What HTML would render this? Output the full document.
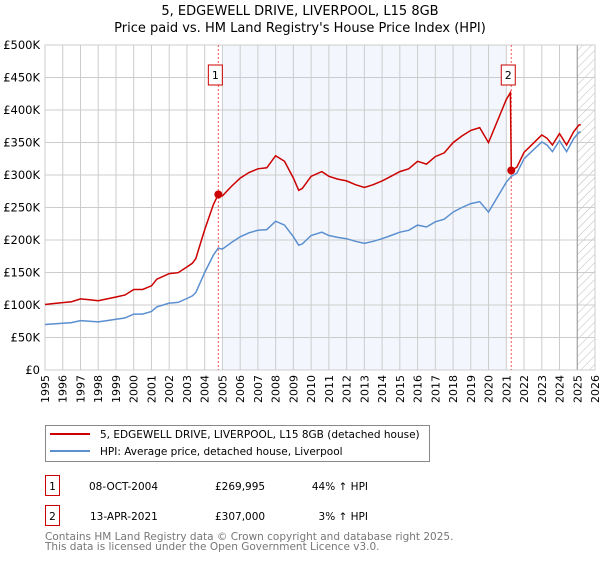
<!DOCTYPE html>
<html><head><meta charset="utf-8"><style>
body{margin:0;background:#fff;font-family:"DejaVu Sans","Liberation Sans",sans-serif;}
svg text{font-family:"DejaVu Sans","Liberation Sans",sans-serif;}
</style></head><body>
<svg id="c" width="600" height="560" xmlns="http://www.w3.org/2000/svg">
<defs><pattern id="hatch" width="6" height="6" patternUnits="userSpaceOnUse" patternTransform="rotate(45)"><line x1="0" y1="0" x2="0" y2="6" stroke="#bbb" stroke-width="1"/></pattern></defs>
<text x="300" y="15" text-anchor="middle" font-size="13">5, EDGEWELL DRIVE, LIVERPOOL, L15 8GB</text>
<text x="300" y="32" text-anchor="middle" font-size="13">Price paid vs. HM Land Registry's House Price Index (HPI)</text>
<g id="plot"></g>
<g>
<rect x="45.5" y="425.5" width="384" height="36" fill="#fff" stroke="#888"/>
<line x1="50" y1="434" x2="90" y2="434" stroke="#cc0000" stroke-width="2"/>
<text x="100" y="438" font-size="10.5">5, EDGEWELL DRIVE, LIVERPOOL, L15 8GB (detached house)</text>
<line x1="50" y1="451" x2="90" y2="451" stroke="#5b8fd0" stroke-width="2"/>
<text x="100" y="455" font-size="10.5">HPI: Average price, detached house, Liverpool</text>
</g>
<g font-size="10.5">
<rect x="45.5" y="475.5" width="14" height="20" fill="#fff" stroke="#cc0000"/>
<text x="52.5" y="490" text-anchor="middle">1</text>
<text x="89" y="490">08-OCT-2004</text>
<text x="215" y="490">£269,995</text>
<text x="368" y="490" text-anchor="end">44% ↑ HPI</text>
<rect x="45.5" y="505.5" width="14" height="20" fill="#fff" stroke="#cc0000"/>
<text x="52.5" y="520" text-anchor="middle">2</text>
<text x="90" y="520">13-APR-2021</text>
<text x="215" y="520">£307,000</text>
<text x="368" y="520" text-anchor="end">3% ↑ HPI</text>
</g>
<text x="45" y="540" font-size="10.5" fill="#777">Contains HM Land Registry data © Crown copyright and database right 2025.</text>
<text x="45" y="550" font-size="10.5" fill="#777">This data is licensed under the Open Government Licence v3.0.</text>
</svg>
<script>
const hpiYears=[1995,1995.5,1996,1996.5,1997,1997.5,1998,1998.5,1999,1999.5,2000,2000.5,2001,2001.3,2002,2002.5,2003,2003.3,2003.5,2004,2004.5,2004.77,2005,2005.5,2006,2006.5,2007,2007.5,2008,2008.5,2009,2009.3,2009.5,2010,2010.6,2011,2011.5,2012,2012.5,2013,2013.5,2014,2014.5,2015,2015.5,2016,2016.5,2017,2017.5,2018,2018.5,2019,2019.5,2020,2020.5,2021,2021.28,2021.6,2022,2022.5,2023,2023.3,2023.6,2024,2024.4,2024.8,2025.1,2025.2];
const hpiValues=[70,71,72,73,76,75,74,76,78,80,86,86,90,97,103,104,110,114,119,150,177,187.5,186,196,205,211,215,216,229,223,205,192,194,207,212,207,204,202,198,195,198,202,207,212,215,223,220,228,232,243,250,256,259,243,266,289,298,303,325,338,351,346,336,353,336,356,366,366];
const salesYears=[2004.77,2021.28];
const salesPrices=[269.995,307];
const yTicks=[0,50,100,150,200,250,300,350,400,450,500];
const yTickLabels=["£0","£50K","£100K","£150K","£200K","£250K","£300K","£350K","£400K","£450K","£500K"];
const xTicks=[1995,1996,1997,1998,1999,2000,2001,2002,2003,2004,2005,2006,2007,2008,2009,2010,2011,2012,2013,2014,2015,2016,2017,2018,2019,2020,2021,2022,2023,2024,2025,2026];

const NS="http://www.w3.org/2000/svg";
const L=45,R=595,T=45,B=370;
const X=y=>L+(y-1995)/(2026-1995)*(R-L);
const Y=v=>B-v/500*(B-T);
const g=document.getElementById('plot');
function mk(tag,attrs,parent){const e=document.createElementNS(NS,tag);for(const k in attrs)e.setAttribute(k,attrs[k]);(parent||g).appendChild(e);return e;}
function hpiAt(t){for(let i=0;i<hpiYears.length-1;i++){if(t>=hpiYears[i]&&t<=hpiYears[i+1]){const f=(t-hpiYears[i])/(hpiYears[i+1]-hpiYears[i]);return hpiValues[i]+f*(hpiValues[i+1]-hpiValues[i]);}}return hpiValues[hpiValues.length-1];}

let e=mk('rect',{x:X(2005),y:T,width:X(2021)-X(2005),height:B-T,fill:'#eef3fc',opacity:0.7});


e=mk('rect',{x:X(2025.0),y:T,width:R-X(2025.0),height:B-T,fill:'url(#hatch)'});


yTicks.forEach((v,i)=>{
 let l=mk('line',{x1:L,x2:R,y1:Y(v),y2:Y(v),stroke:'#ccc','stroke-width':1});
 
 
 let t=mk('text',{x:L-5,y:Y(v)+4,'text-anchor':'end','font-size':'11.5'});
 t.textContent=yTickLabels[i];
 
 
});
xTicks.forEach(yr=>{
 let l=mk('line',{x1:X(yr),x2:X(yr),y1:T,y2:B,stroke:'#ccc','stroke-width':1});
 
 
 const tx=X(yr)+4, ty=B+5;
 let t=mk('text',{x:tx,y:ty,'text-anchor':'end','font-size':'11'});
 t.setAttribute('transform','rotate(-90 '+tx.toFixed(1)+' '+ty+')');
 t.textContent=String(yr);
 
 
});
e=mk('line',{x1:X(2025.0),x2:X(2025.0),y1:T,y2:B,stroke:'#999','stroke-width':1});


e=mk('rect',{x:L,y:T,width:R-L,height:B-T,fill:'none',stroke:'#ccc'});



salesYears.forEach((sy,i)=>{
 let l=mk('line',{x1:X(sy),x2:X(sy),y1:T,y2:B,stroke:'#e55','stroke-width':1,'stroke-dasharray':'2,2'});
 
 
});

let d=hpiYears.map((t,i)=>(i?'L':'M')+X(t).toFixed(1)+','+Y(hpiValues[i]).toFixed(1)).join('');
e=mk('path',{d:d,fill:'none',stroke:'#5b8fd0','stroke-width':1.5});



const r1=salesPrices[0]/hpiAt(salesYears[0]);
const r2=salesPrices[1]/hpiAt(salesYears[1]);
let pts=[];
hpiYears.forEach((t,i)=>{ if(t<salesYears[1]) pts.push([t,hpiValues[i]*r1]); });
pts.push([salesYears[1]-0.05,hpiAt(salesYears[1]-0.05)*r1]);
pts.push([salesYears[1],salesPrices[1]]);
hpiYears.forEach((t,i)=>{ if(t>salesYears[1]) pts.push([t,hpiValues[i]*r2]); });
d=pts.map((p,i)=>(i?'L':'M')+X(p[0]).toFixed(1)+','+Y(p[1]).toFixed(1)).join('');
e=mk('path',{d:d,fill:'none',stroke:'#cc0000','stroke-width':1.5});



salesYears.forEach((sy,i)=>{
 let c=mk('circle',{cx:X(sy),cy:Y(salesPrices[i]),r:4,fill:'#cc0000'});
 
 
 let bx=X(sy)-10;
 let r=mk('rect',{x:bx,y:65,width:14,height:20,fill:'#fff',stroke:'#cc0000'});
 
 
 let t=mk('text',{x:bx+7,y:79,'text-anchor':'middle','font-size':'11'});
 t.textContent=String(i+1);
 
 
});
</script>
</body></html>
